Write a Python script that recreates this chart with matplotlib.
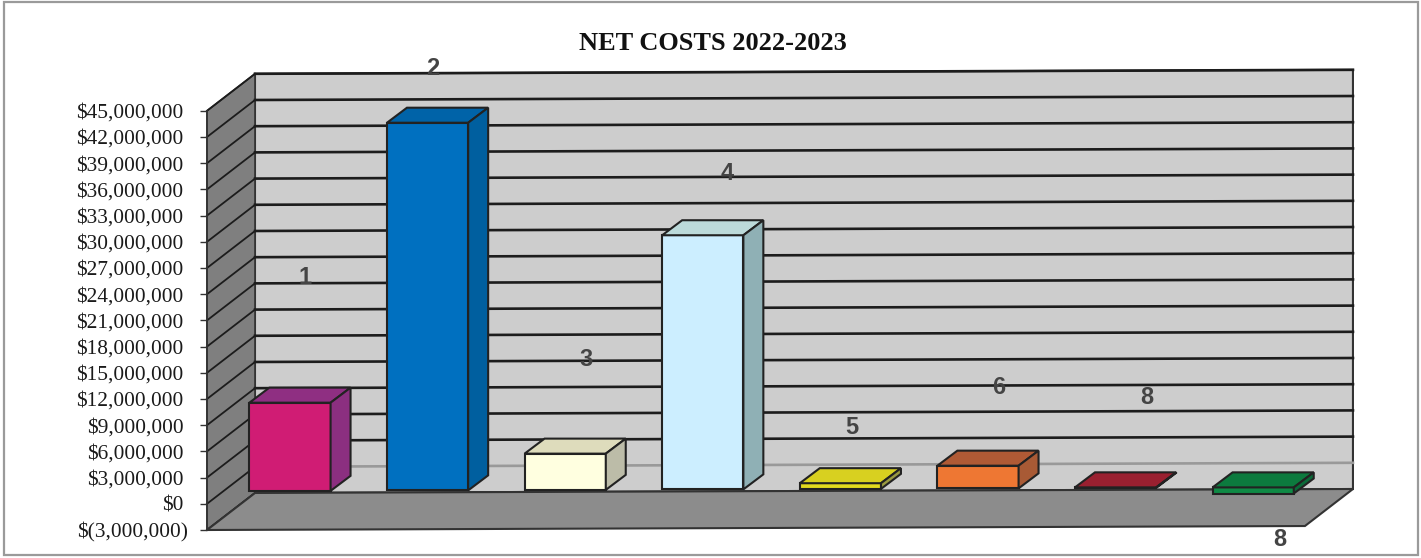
import matplotlib
matplotlib.use("Agg")
import matplotlib.pyplot as plt
from matplotlib.patches import Polygon, Rectangle
from matplotlib.transforms import ScaledTranslation

# values
tick_values = [-3000000 + 3000000 * i for i in range(17)]
tick_labels = ["$(3,000,000)", "$0", "$3,000,000", "$6,000,000", "$9,000,000", "$12,000,000",
               "$15,000,000", "$18,000,000", "$21,000,000", "$24,000,000", "$27,000,000",
               "$30,000,000", "$33,000,000", "$36,000,000", "$39,000,000", "$42,000,000",
               "$45,000,000"]
bar_values = [10100000, 42100000, 4150000, 29100000, 650000, 2600000, 60000, -700000]
bar_labels = ["1", "2", "3", "4", "5", "6", "8", "8"]

front_colors = ["#d01c74", "#0070c0", "#ffffe0", "#cceeff", "#e2da1e", "#ee7733", "#a0222f", "#0f8a45"]
top_colors = ["#8f2f82", "#0063a8", "#dedcbc", "#bcdada", "#d8d020", "#b05a35", "#9a2030", "#0c7a3e"]
side_colors = ["#8b2f80", "#005f9f", "#bcbca8", "#8fb0b5", "#9a9a40", "#a85a35", "#7a1a28", "#0a6a38"]

# floating label positions (category, dollars)
label_x = [0.11, 1.04, 2.15, 3.18, 4.08, 5.15, 6.23, 7.19]
label_y = [25970000, 49900000, 16500000, 37800000, 8700000, 13300000, 12200000, -4100000]

# fake 3d geometry
DEPTH_X = 0.349
DEPTH_Y = 4240000
TILT = 57000
WALL_LEFT = -0.2544
WALL_RIGHT = 7.725
BAR_WIDTH = 0.59
BAR_DEPTH_X = 0.145
BAR_DEPTH_Y = 1720000
BAR_BASE = 1466000


def wall_pt(c, v, depth=1.0):
    # c is the position on the back wall, depth 1 = back, 0 = front
    return (c - (1 - depth) * DEPTH_X, v + depth * DEPTH_Y + TILT * (c - WALL_LEFT))


fig = plt.figure(figsize=(14.21, 5.58), dpi=100, facecolor="white")
ax = fig.add_axes([0, 0, 1, 1])
ax.set_xlim(-2.1076, 8.2195)
ax.set_ylim(-6206000, 57690000)
ax.patch.set_visible(False)

# page frame
fig.patches.append(Rectangle((4 / 1421, 1 - 555 / 558), 1414 / 1421, 553 / 558, transform=fig.transFigure,
                             fill=False, edgecolor="#9a9a9a", linewidth=1.6))

# walls and floor
ax.add_patch(Polygon([wall_pt(WALL_LEFT, -3000000), wall_pt(WALL_RIGHT, -3000000),
                      wall_pt(WALL_RIGHT, 45000000), wall_pt(WALL_LEFT, 45000000)],
                     facecolor="#cdcdcd", edgecolor="#333333", linewidth=1.5, zorder=1))
ax.add_patch(Polygon([wall_pt(WALL_LEFT, -3000000, 0), wall_pt(WALL_LEFT, -3000000),
                      wall_pt(WALL_LEFT, 45000000), wall_pt(WALL_LEFT, 45000000, 0)],
                     facecolor="#7f7f7f", edgecolor="#333333", linewidth=1.2, zorder=1))
ax.add_patch(Polygon([wall_pt(WALL_LEFT, -3000000, 0), wall_pt(WALL_RIGHT, -3000000, 0),
                      wall_pt(WALL_RIGHT, -3000000), wall_pt(WALL_LEFT, -3000000)],
                     facecolor="#8c8c8c", edgecolor="#333333", linewidth=1.5, zorder=2))

# gridlines, side wall then back wall
for v in tick_values:
    x0, y0 = wall_pt(WALL_LEFT, v, 0)
    x1, y1 = wall_pt(WALL_LEFT, v)
    x2, y2 = wall_pt(WALL_RIGHT, v)
    ax.plot([x0, x1], [y0, y1], color="#1c1c1c", linewidth=1.3, zorder=1.5)
    if v > -3000000:
        grid_color = "#999999" if v == 0 else "#1c1c1c"
        ax.plot([x1, x2], [y1, y2], color=grid_color, linewidth=1.9, zorder=1.5)

# bars
for i, val in enumerate(bar_values):
    left = i - BAR_WIDTH / 2
    right = i + BAR_WIDTH / 2
    base = BAR_BASE + TILT * (i - WALL_LEFT)
    top = base + max(val, 0)
    bottom = base + min(val, 0)
    ax.add_patch(Polygon([(left, bottom), (right, bottom), (right, top), (left, top)],
                         facecolor=front_colors[i], edgecolor="#222222", linewidth=1.5, zorder=3))
    ax.add_patch(Polygon([(left, top), (right, top), (right + BAR_DEPTH_X, top + BAR_DEPTH_Y),
                          (left + BAR_DEPTH_X, top + BAR_DEPTH_Y)],
                         facecolor=top_colors[i], edgecolor="#222222", linewidth=1.5, zorder=3))
    ax.add_patch(Polygon([(right, bottom), (right + BAR_DEPTH_X, bottom + BAR_DEPTH_Y),
                          (right + BAR_DEPTH_X, top + BAR_DEPTH_Y), (right, top)],
                         facecolor=side_colors[i], edgecolor="#222222", linewidth=1.5, zorder=3))

for x, y, txt in zip(label_x, label_y, bar_labels):
    ax.text(x, y, txt, ha="center", va="center", fontsize=17, fontweight="bold",
            family="Liberation Sans", color="#444444", zorder=4)

# value axis
for name in ["top", "right", "bottom"]:
    ax.spines[name].set_visible(False)
ax.spines["left"].set_position(("data", WALL_LEFT - DEPTH_X))
ax.spines["left"].set_bounds(-3000000, 45000000)
ax.spines["left"].set_color("#333333")
ax.spines["left"].set_linewidth(1.2)
ax.spines["left"].set_zorder(5)
ax.set_xticks([])
ax.set_yticks(tick_values)
ax.set_yticklabels(tick_labels, family="Liberation Serif", fontsize=15.4, color="#1a1a1a")
ax.tick_params(axis="y", length=5, width=1.0, color="#333333", pad=12)
# the closing bracket hangs out past the digits
lab = ax.get_yticklabels()[0]
lab.set_transform(lab.get_transform() + ScaledTranslation(5 / 100, 0, fig.dpi_scale_trans))

fig.text(713 / 1421, 1 - 43 / 558, "NET COSTS 2022-2023", ha="center", va="center",
         family="Liberation Serif", fontweight="bold", fontsize=19, color="#111111")

plt.savefig("out.png", dpi=100)
plt.close()
